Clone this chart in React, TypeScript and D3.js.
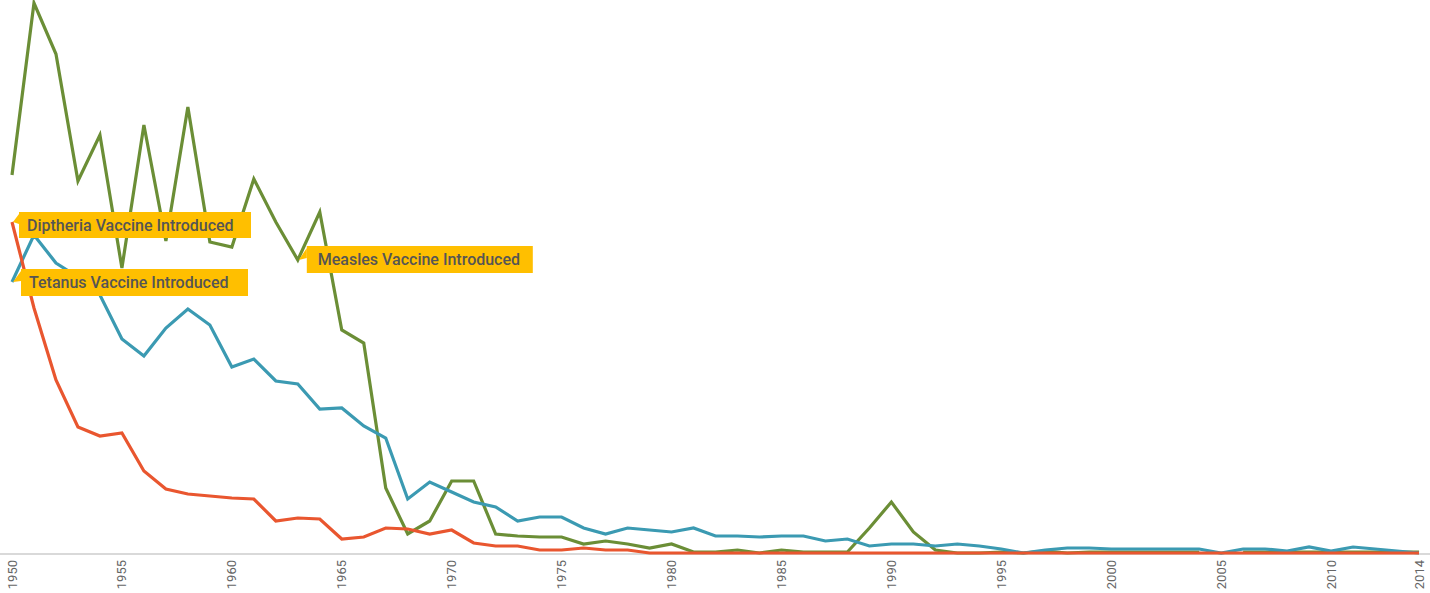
import React from "react";
import * as d3 from "d3";

const years: number[] = d3.range(1950, 2015);

const diphtheria: (number | null)[] = [
  331, 245, 173, 126, 117, 120, 82, 64, 59, 57,
  55, 54, 32, 35, 34, 14, 16, 25, 24, 19,
  23, 10, 7, 7, 3, 3, 5, 3, 3, 0,
  0, 0, 0, 0, 0, 0, 0, 0, 0, 0,
  0, 0, 0, 0, 0, 0, 0, 0, 0, 0,
  0, 0, 0, 0, 0, 0, 0, 0, 0, 0,
  0, 0, 0, 0, 0,
];

const tetanus: (number | null)[] = [
  271, 318, 290, 276, 258, 214, 197, 225, 244, 228,
  186, 194, 172, 169, 144, 145, 127, 115, 54, 71,
  61, 51, 46, 32, 36, 36, 25, 19, 25, 23,
  21, 25, 17, 17, 16, 17, 17, 12, 14, 7,
  9, 9, 7, 9, 7, 4, 0, 3, 5, 5,
  4, 4, 4, 4, 4, 0, 4, 4, 2, 6,
  2, 6, 4, 2, 0,
];

const measles: (number | null)[] = [
  378, 550, 499, 372, 418, 285, 428, 312, 446, 311,
  306, 374, 331, 293, 341, 223, 210, 65, 19, 32,
  72, 72, 19, 17, 16, 16, 9, 12, 9, 5,
  9, 1, 1, 3, 0, 3, 1, 1, 1, 25,
  51, 21, 3, 0, 0, 1, 0, 2, 0, 1,
  1, 1, 1, 1, 1, null, 1, 1, 1, 1,
  1, 1, 1, 1, 1,
];

const tickYears: number[] = [1950, 1955, 1960, 1965, 1970, 1975, 1980, 1985, 1990, 1995, 2000, 2005, 2010, 2014];

const seriesNames = ["Diphtheria", "Tetanus", "Measles"];
const seriesColors = ["#E9562F", "#3B9AB2", "#6B8E36"];

const annotationLabels = ["Diptheria Vaccine Introduced", "Tetanus Vaccine Introduced", "Measles Vaccine Introduced"];
const annotationYears = [1950, 1950, 1963];
const annotationSeries = [0, 1, 2];

const W = 1430;
const H = 593;

export default function App() {
  const x = d3.scaleLinear().domain([1950, 2014]).range([12, 1419]);
  const y = d3.scaleLinear().domain([0, 550]).range([553, 3]);
  const all = [diphtheria, tetanus, measles];

  const line = d3
    .line<number | null>()
    .defined((d) => d !== null)
    .x((_, i) => x(years[i]))
    .y((d) => y(d as number));

  // annotation box geometry (offsets from anchor point)
  const boxes = [
    { dx: 7, dy: -10, w: 232, h: 26, pad: 8 },
    { dx: 9, dy: -13, w: 227, h: 27, pad: 8 },
    { dx: 9, dy: -14, w: 226, h: 27, pad: 11 },
  ];

  return (
    <svg width={W} height={H} style={{ position: "absolute", left: 0, top: 0, display: "block" }}>
      <rect x={0} y={0} width={W} height={H} fill="#fff" />
      <line x1={0} x2={W} y1={y(0) + 1} y2={y(0) + 1} stroke="#d9d9d9" strokeWidth={2} />
      {[measles, tetanus, diphtheria].map((s) => {
        const idx = all.indexOf(s);
        return (
          <path
            key={seriesNames[idx]}
            d={line(s) || ""}
            fill="none"
            stroke={seriesColors[idx]}
            strokeWidth={3.2}
            strokeLinejoin="miter"
          />
        );
      })}
      {tickYears.map((t) => (
        <text
          key={t}
          transform={`translate(${x(t) + 4.5},${560}) rotate(-90)`}
          textAnchor="end"
          fontFamily="Roboto, sans-serif"
          fontSize={13}
          fill="#666"
        >
          {t}
        </text>
      ))}
      {annotationLabels.map((lab, i) => {
        const yr = annotationYears[i];
        const s = all[annotationSeries[i]];
        const px = x(yr);
        const py = y(s[yr - 1950] as number);
        const b = boxes[i];
        const bx = px + b.dx;
        const by = py + b.dy;
        return (
          <g key={lab}>
            <path
              d={`M${bx},${by + 2} L${px + 1},${py} L${bx},${by + 12} Z`}
              fill="#FFBF00"
            />
            <rect x={bx} y={by} width={b.w} height={b.h} fill="#FFBF00" />
            <text
              x={bx + b.pad}
              y={by + b.h / 2 + 5.5}
              fontFamily="Roboto, sans-serif"
              fontWeight={500}
              fontSize={16}
              fill="#555"
            >
              {lab}
            </text>
          </g>
        );
      })}
    </svg>
  );
}
